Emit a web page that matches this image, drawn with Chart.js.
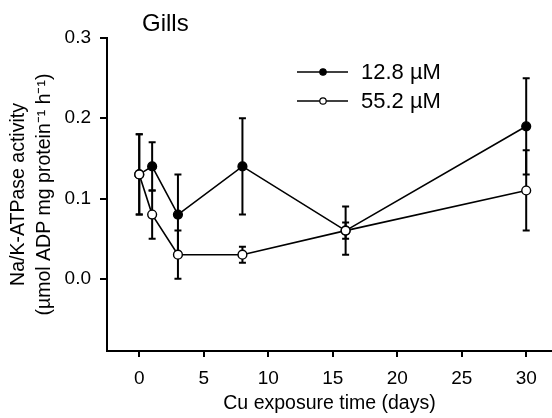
<!DOCTYPE html>
<html>
<head>
<meta charset="utf-8">
<script src="https://cdn.jsdelivr.net/npm/chart.js@4/dist/chart.umd.min.js"></script>
<style>
  html, body { margin: 0; padding: 0; background: #fff; }
  #wrap { width: 552px; height: 418px; }
</style>
</head>
<body>
<div id="wrap"><canvas id="myChart"></canvas></div>
<script>
// exposure days and Na/K-ATPase activity for both copper levels
const days = [0, 1, 3, 8, 16, 30];
const cuLow = [0.13, 0.14, 0.08, 0.14, 0.06, 0.19];
const cuLowErr = [0.05, 0.03, 0.05, 0.06, 0.03, 0.06];
const cuHigh = [0.13, 0.08, 0.03, 0.03, 0.06, 0.11];
const cuHighErr = [0.05, 0.03, 0.03, 0.01, 0.01, 0.05];
const seriesNames = ["12.8 µM", "55.2 µM"];
const xTicks = [0, 5, 10, 15, 20, 25, 30];
const yTicks = [0.0, 0.1, 0.2, 0.3];

const FONT = "'Liberation Sans', Arial, sans-serif";

function points(vals) {
  return days.map((d, i) => ({ x: d, y: vals[i] }));
}

// vertical error bars with caps, drawn under the markers
const errorBars = {
  id: "errorBars",
  beforeDatasetsDraw(chart) {
    const ctx = chart.ctx;
    const xs = chart.scales.x;
    const ys = chart.scales.y;
    ctx.save();
    ctx.strokeStyle = "#000";
    ctx.lineWidth = 2;
    chart.data.datasets.forEach((ds) => {
      ds.data.forEach((p, i) => {
        const e = ds.errors[i];
        const px = xs.getPixelForValue(p.x);
        const top = ys.getPixelForValue(p.y + e);
        const bot = ys.getPixelForValue(p.y - e);
        ctx.beginPath();
        ctx.moveTo(px, top);
        ctx.lineTo(px, bot);
        ctx.moveTo(px - 3.5, top);
        ctx.lineTo(px + 3.5, top);
        ctx.moveTo(px - 3.5, bot);
        ctx.lineTo(px + 3.5, bot);
        ctx.stroke();
      });
    });
    ctx.restore();
  },
};

// panel title and the small legend box
const panelText = {
  id: "panelText",
  afterDraw(chart) {
    const ctx = chart.ctx;
    ctx.save();
    ctx.fillStyle = "#000";
    ctx.font = "24px " + FONT;
    ctx.textBaseline = "middle";
    ctx.fillText("Gills", 142, 24);

    const rows = [72, 101];
    const fills = ["#000", "#fff"];
    ctx.font = "22px " + FONT;
    rows.forEach((y, i) => {
      ctx.strokeStyle = "#000";
      ctx.lineWidth = 1.5;
      ctx.beginPath();
      ctx.moveTo(297, y);
      ctx.lineTo(348, y);
      ctx.stroke();
      ctx.beginPath();
      ctx.arc(323, y, 3.2, 0, Math.PI * 2);
      ctx.fillStyle = fills[i];
      ctx.fill();
      ctx.lineWidth = 1.2;
      ctx.stroke();
      ctx.fillStyle = "#000";
      ctx.fillText(seriesNames[i], 361, y + 1);
    });
    ctx.restore();
  },
};

const ctx = document.getElementById("myChart");
new Chart(ctx, {
  type: "line",
  data: {
    datasets: [
      {
        label: seriesNames[1],
        data: points(cuHigh),
        errors: cuHighErr,
        order: 0,
        borderColor: "#000",
        borderWidth: 1.6,
        pointRadius: 4.4,
        pointBackgroundColor: "#fff",
        pointBorderColor: "#000",
        pointBorderWidth: 1.4,
        tension: 0,
      },
      {
        label: seriesNames[0],
        data: points(cuLow),
        errors: cuLowErr,
        order: 1,
        borderColor: "#000",
        borderWidth: 1.6,
        pointRadius: 4.4,
        pointBackgroundColor: "#000",
        pointBorderColor: "#000",
        pointBorderWidth: 1.4,
        tension: 0,
      },
    ],
  },
  options: {
    responsive: true,
    maintainAspectRatio: false,
    animation: false,
    layout: { autoPadding: false, padding: { top: 38, right: 0, bottom: 0, left: 0 } },
    plugins: {
      legend: { display: false },
      tooltip: { enabled: false },
    },
    scales: {
      x: {
        type: "linear",
        min: -2.5,
        max: 32,
        afterFit: (s) => {
          s.height = 67;
          s.paddingLeft = 0;
          s.paddingRight = 0;
        },
        afterBuildTicks: (s) => { s.ticks = xTicks.map((v) => ({ value: v })); },
        grid: { drawOnChartArea: false, color: "#000", lineWidth: 2, tickLength: 6 },
        border: { color: "#000", width: 2 },
        ticks: {
          color: "#000",
          font: { family: FONT, size: 19 },
          padding: 10,
          maxRotation: 0,
        },
        title: {
          display: true,
          text: "Cu exposure time (days)",
          color: "#000",
          font: { family: FONT, size: 19.5 },
          padding: { top: 0, bottom: 3 },
        },
      },
      y: {
        min: -0.09,
        max: 0.3,
        afterFit: (s) => { s.width = 107; },
        afterBuildTicks: (s) => { s.ticks = yTicks.map((v) => ({ value: v })); },
        grid: { drawOnChartArea: false, color: "#000", lineWidth: 2, tickLength: 7 },
        border: { color: "#000", width: 2 },
        ticks: {
          color: "#000",
          font: { family: FONT, size: 19 },
          padding: 9,
          callback: (v) => v.toFixed(1),
        },
        title: {
          display: true,
          text: ["Na/K-ATPase activity", "(µmol ADP mg protein⁻¹ h⁻¹)"],
          color: "#000",
          font: { family: FONT, size: 19.5, lineHeight: 1.33 },
          padding: { top: 6, bottom: 0 },
        },
      },
    },
  },
  plugins: [errorBars, panelText],
});
</script>
</body>
</html>
